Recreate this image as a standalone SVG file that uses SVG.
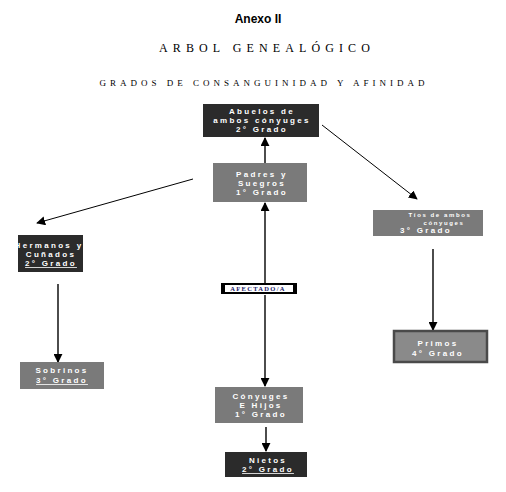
<svg xmlns="http://www.w3.org/2000/svg" width="506" height="492" viewBox="0 0 506 492">
<defs>
<marker id="ahs" viewBox="0 0 10 10" refX="9" refY="5" markerWidth="9" markerHeight="9" markerUnits="userSpaceOnUse" orient="auto">
<path d="M0,0 L10,5 L0,10 z" fill="#000"/>
</marker>
</defs>
<style>
.t{font-family:"Liberation Sans",Arial,sans-serif;font-weight:bold;fill:#fff;font-size:8px;letter-spacing:2.3px;text-anchor:middle}
.s{font-size:6px;letter-spacing:1.6px}
.dark{fill:#2b2b2b}
.grey{fill:#7a7a7a}
.ln{stroke:#000;stroke-width:1;fill:none}
.lv{stroke:#000;stroke-width:1.4;fill:none}
.serif{font-family:"Liberation Serif","Times New Roman",serif;fill:#000;text-anchor:middle}
</style>
<rect width="506" height="492" fill="#fff"/>
<g id="titles">
<text x="258" y="23" font-family="Liberation Sans,Arial,sans-serif" font-weight="bold" font-size="12" text-anchor="middle">Anexo II</text>
<text x="267" y="52" class="serif" font-size="12" letter-spacing="5.1">ARBOL GENEALÓGICO</text>
<text x="264" y="86" class="serif" font-size="9" letter-spacing="4">GRADOS DE CONSANGUINIDAD Y AFINIDAD</text>
</g>
<g id="connectors">
<line class="lv" x1="265" y1="163" x2="265" y2="138" marker-end="url(#ahs)"/>
<line class="ln" x1="322" y1="125" x2="417" y2="199" marker-end="url(#ahs)"/>
<line class="ln" x1="193" y1="179" x2="37" y2="223" marker-end="url(#ahs)"/>
<line class="lv" x1="58" y1="284" x2="58" y2="362" marker-end="url(#ahs)"/>
<line class="lv" x1="433" y1="249" x2="433" y2="330" marker-end="url(#ahs)"/>
<line class="lv" x1="265" y1="283" x2="265" y2="203" marker-end="url(#ahs)"/>
<line class="lv" x1="265" y1="295" x2="265" y2="386" marker-end="url(#ahs)"/>
<line class="lv" x1="266" y1="427" x2="266" y2="451" marker-end="url(#ahs)"/>
</g>
<g id="abuelos">
<rect class="dark" x="203" y="104" width="116" height="33"/>
<text class="t" x="262" y="114">Abuelos de</text>
<text class="t" x="262" y="123">ambos cónyuges</text>
<text class="t" x="262" y="132">2° Grado</text>
</g>
<g id="padres">
<rect class="grey" x="213" y="163" width="94" height="39"/>
<text class="t" x="262" y="177">Padres y</text>
<text class="t" x="262" y="186">Suegros</text>
<text class="t" x="262" y="195">1° Grado</text>
</g>
<g id="hermanos">
<rect class="dark" x="18" y="235" width="65" height="37"/>
<text class="t" x="49" y="248">Hermanos y</text>
<text class="t" x="51" y="257">Cuñados</text>
<text class="t" x="51" y="266" text-decoration="underline">2° Grado</text>
</g>
<g id="sobrinos">
<rect class="grey" x="20" y="362" width="84" height="27"/>
<text class="t" x="62" y="373">Sobrinos</text>
<text class="t" x="62" y="383" text-decoration="underline">3° Grado</text>
</g>
<g id="tios">
<rect class="grey" x="373" y="210" width="110" height="26"/>
<text class="t s" x="440" y="217">Tíos de ambos</text>
<text class="t s" x="444" y="225">cónyuges</text>
<text class="t" x="426" y="233">3° Grado</text>
</g>
<g id="primos">
<rect x="394" y="331" width="93" height="31" fill="#8a8a8a" stroke="#4a4a4a" stroke-width="2.5"/>
<text class="t" x="438" y="346">Primos</text>
<text class="t" x="438" y="356">4° Grado</text>
</g>
<g id="afectado">
<rect x="221" y="283" width="76" height="11" fill="#000"/>
<rect x="225" y="285" width="68" height="7" fill="#fff"/>
<text x="258" y="291" font-family="Liberation Serif,serif" font-weight="bold" font-size="6.5" fill="#1a1a6a" letter-spacing="1.3" text-anchor="middle">AFECTADO/A</text>
</g>
<g id="conyuges">
<rect class="grey" x="215" y="387" width="88" height="36"/>
<text class="t" x="261" y="399">Cónyuges</text>
<text class="t" x="261" y="408">E Hijos</text>
<text class="t" x="261" y="417">1° Grado</text>
</g>
<g id="nietos">
<rect class="dark" x="225" y="452" width="82" height="25"/>
<text class="t" x="268" y="463">Nietos</text>
<text class="t" x="268" y="472" text-decoration="underline">2° Grado</text>
</g>
</svg>
